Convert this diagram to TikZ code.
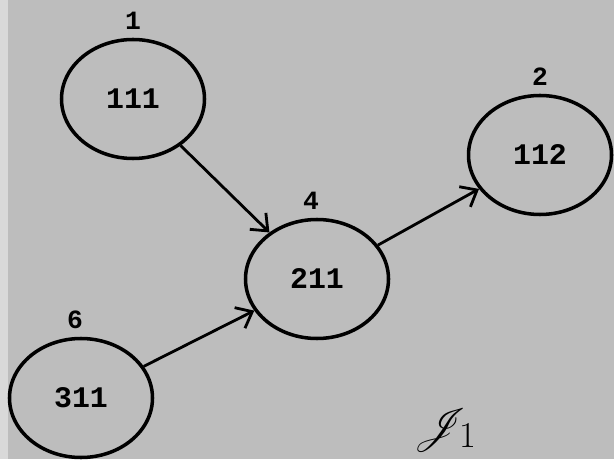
\documentclass[tikz,border=0pt]{standalone}
\usepackage{fontspec}
\usepackage{mathrsfs}
\setmonofont{Liberation Mono}
\usepackage{tikz}
\usetikzlibrary{positioning,arrows.meta,shapes.geometric}

\definecolor{paper}{HTML}{BDBDBD}
\definecolor{paperedge}{HTML}{D9D9D9}

\tikzset{
    state/.style={draw, ellipse, line width=2pt, minimum width=2.86cm, minimum height=2.38cm,
        font=\ttfamily\bfseries\fontsize{17}{20}\selectfont, inner sep=0pt},
    tag/.style={font=\ttfamily\bfseries\fontsize{15}{17}\selectfont, label distance=0.02cm},
}

\begin{document}
\begin{tikzpicture}[>={Straight Barb[length=0.28cm, width=0.46cm]}, line width=1.6pt]
    % Paper
    \fill[paper] (0, 0) rectangle (12.28, 9.18);
    \fill[paperedge] (0, 0) rectangle (0.16, 9.18);
    \useasboundingbox (0, 0) rectangle (12.28, 9.18);

    % States
    \node[state, label={[tag]above:1}] (s111) at (2.66, 7.20) {111};
    \node[state, label={[tag]above:2}] (s112) at (10.80, 6.08) {112};
    \node[state, label={[tag, xshift=-0.12cm]above:4}] (s211) at (6.34, 3.60) {211};
    \node[state, label={[tag, xshift=-0.12cm]above:6}] (s311) at (1.62, 1.22) {311};

    % Name
    \node (name) at (8.90, 0.58) {\fontsize{31}{34}\selectfont$\mathscr{J}_{1}$};

    % Transitions
    \draw[->] (s111) -- (s211);
    \draw[->] (s311) -- (s211);
    \draw[->] (s211) -- (s112);
\end{tikzpicture}
\end{document}
